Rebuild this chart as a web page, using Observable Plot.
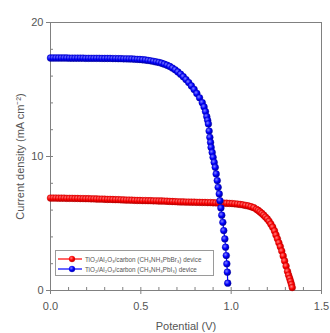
<!DOCTYPE html>
<html>
<head>
<meta charset="utf-8">
<script src="https://cdn.jsdelivr.net/npm/d3@7"></script>
<script src="https://cdn.jsdelivr.net/npm/@observablehq/plot@0.6"></script>
<style>
  body { margin: 0; background: #fff; }
  #wrap { position: relative; width: 330px; height: 333px; font-family: "Liberation Sans", Arial, sans-serif; }
  #legend { position: absolute; left: 55px; top: 250px; width: 159px; height: 26px; border: 1px solid #9a9a9a; background: #fff; box-sizing: border-box; }
  .row { position: absolute; left: 0; height: 10px; display: flex; align-items: center; font-size: 6.3px; color: #555; white-space: nowrap; }
  .row svg { margin-left: 2px; margin-right: 3px; }
</style>
</head>
<body>
<div id="wrap"></div>
<script>
// Red: TiO2/Al2O3/carbon (CH3NH3PbBr3) device
const redV = [0.000,0.015,0.030,0.045,0.060,0.075,0.090,0.105,0.120,0.135,0.150,0.165,0.180,0.195,0.210,0.225,0.240,0.255,0.270,0.285,0.300,0.315,0.330,0.345,0.360,0.375,0.390,0.405,0.420,0.435,0.450,0.465,0.480,0.495,0.510,0.525,0.540,0.555,0.570,0.585,0.600,0.615,0.630,0.645,0.660,0.675,0.690,0.705,0.720,0.735,0.750,0.765,0.780,0.795,0.810,0.825,0.840,0.855,0.870,0.885,0.900,0.915,0.930,0.945,0.960,0.975,0.990,1.005,1.020,1.035,1.050,1.065,1.080,1.095,1.110,1.125,1.140,1.150,1.160,1.170,1.180,1.190,1.200,1.210,1.220,1.230,1.240,1.248,1.256,1.264,1.272,1.280,1.288,1.296,1.304,1.312,1.318,1.324,1.329,1.334,1.338];
const redJ = [6.90,6.90,6.90,6.89,6.89,6.89,6.88,6.88,6.88,6.87,6.87,6.86,6.86,6.85,6.85,6.84,6.84,6.83,6.82,6.82,6.81,6.80,6.80,6.79,6.78,6.78,6.77,6.76,6.75,6.75,6.74,6.73,6.72,6.72,6.71,6.71,6.70,6.70,6.69,6.69,6.68,6.68,6.67,6.66,6.65,6.64,6.63,6.62,6.61,6.61,6.60,6.60,6.59,6.59,6.58,6.58,6.57,6.57,6.56,6.56,6.55,6.54,6.53,6.53,6.52,6.51,6.50,6.49,6.47,6.45,6.42,6.39,6.35,6.31,6.25,6.18,6.06,5.97,5.86,5.75,5.62,5.48,5.34,5.16,4.95,4.72,4.44,4.14,3.86,3.56,3.27,2.94,2.58,2.20,1.82,1.42,1.14,0.90,0.68,0.45,0.22];
// Blue: TiO2/Al2O3/carbon (CH3NH3PbI3) device
const blueV = [0.000,0.015,0.030,0.045,0.060,0.075,0.090,0.105,0.120,0.135,0.150,0.165,0.180,0.195,0.210,0.225,0.240,0.255,0.270,0.285,0.300,0.315,0.330,0.345,0.360,0.375,0.390,0.405,0.420,0.435,0.450,0.465,0.480,0.495,0.510,0.525,0.540,0.555,0.570,0.585,0.600,0.615,0.630,0.645,0.660,0.675,0.690,0.705,0.720,0.735,0.750,0.765,0.780,0.795,0.810,0.825,0.840,0.850,0.858,0.865,0.870,0.874,0.878,0.882,0.886,0.889,0.895,0.900,0.906,0.912,0.917,0.923,0.928,0.934,0.938,0.943,0.948,0.954,0.959,0.965,0.969,0.973,0.976,0.979,0.981];
const blueJ = [17.35,17.35,17.35,17.35,17.35,17.35,17.35,17.34,17.34,17.34,17.34,17.34,17.34,17.33,17.33,17.33,17.33,17.33,17.33,17.32,17.32,17.32,17.32,17.31,17.31,17.30,17.30,17.29,17.29,17.28,17.28,17.26,17.25,17.24,17.22,17.20,17.17,17.14,17.10,17.06,17.02,16.96,16.89,16.81,16.72,16.60,16.47,16.31,16.14,15.95,15.74,15.52,15.27,15.00,14.70,14.38,14.02,13.70,13.35,12.98,12.70,12.43,11.90,11.43,11.05,10.68,10.30,9.94,9.56,9.19,8.70,8.20,7.70,7.21,6.70,6.16,5.62,5.09,4.47,3.85,3.23,2.61,1.99,1.37,0.55];

const xMajor = [0, 0.5, 1.0, 1.5];
const xMinor = [0,0.1,0.2,0.3,0.4,0.5,0.6,0.7,0.8,0.9,1.0,1.1,1.2,1.3,1.4,1.5];
const yMajor = [0, 10, 20];
const yMinor = [0,2,4,6,8,10,12,14,16,18,20];

const seriesNames = ["TiO₂/Al₂O₃/carbon (CH₃NH₃PbBr₃) device", "TiO₂/Al₂O₃/carbon (CH₃NH₃PbI₃) device"];
const seriesColors = ["#ff0000", "#0000ff"];

const red = redV.map((v, i) => ({V: v, J: redJ[i]}));
const blue = blueV.map((v, i) => ({V: v, J: blueJ[i]}));

const axisColor = "#808080";
const chart = Plot.plot({
  width: 330, height: 333,
  marginLeft: 50, marginRight: 9, marginTop: 22, marginBottom: 43,
  style: {fontFamily: "'Liberation Sans', Arial, sans-serif", fontSize: "11px", color: "#555", background: "#fff"},
  x: {domain: [0, 1.5]},
  y: {domain: [0, 20]},
  marks: [
    Plot.frame({stroke: axisColor, strokeWidth: 1}),
    Plot.axisX({ticks: xMajor, tickFormat: d3.format(".1f"), tickSize: 4, tickPadding: 8, stroke: axisColor, label: "Potential (V)", labelAnchor: "center", labelOffset: 39, labelArrow: "none", fill: "#555"}),
    Plot.axisX({ticks: xMinor, tickSize: 3, dy: -3, tickFormat: () => "", stroke: axisColor, label: null}),
    Plot.axisY({ticks: yMajor, tickSize: 4, tickPadding: 3, stroke: axisColor, label: "Current density (mA cm⁻²)", labelAnchor: "center", labelOffset: 34, labelArrow: "none", fill: "#555"}),
    Plot.axisY({ticks: yMinor, tickSize: 3, dx: 3, tickFormat: () => "", stroke: axisColor, label: null}),
    Plot.line(red, {x: "V", y: "J", stroke: seriesColors[0], strokeWidth: 1.2}),
    Plot.line(blue, {x: "V", y: "J", stroke: seriesColors[1], strokeWidth: 1.2}),
    Plot.dot(red, {x: "V", y: "J", r: 3.4, fill: "url(#gRed)", stroke: "#c00000", strokeWidth: 0.4}),
    Plot.dot(blue, {x: "V", y: "J", r: 3.4, fill: "url(#gBlue)", stroke: "#0000a8", strokeWidth: 0.4})
  ]
});

// radial gradients for shaded dots
const svg = d3.select(chart);
const defs = svg.insert("defs", ":first-child");
function grad(id, light, mid, dark) {
  const g = defs.append("radialGradient").attr("id", id).attr("cx", "38%").attr("cy", "35%").attr("r", "65%");
  g.append("stop").attr("offset", "0%").attr("stop-color", light);
  g.append("stop").attr("offset", "55%").attr("stop-color", mid);
  g.append("stop").attr("offset", "100%").attr("stop-color", dark);
}
grad("gRed", "#ff8080", "#ff0000", "#b00000");
grad("gBlue", "#8080ff", "#0000ff", "#0000a0");

const wrap = document.getElementById("wrap");
wrap.appendChild(chart);

// legend
const legend = document.createElement("div");
legend.id = "legend";
seriesNames.forEach((name, i) => {
  const row = document.createElement("div");
  row.className = "row";
  row.style.top = (3 + i * 10) + "px";
  const c = seriesColors[i];
  const gid = i === 0 ? "gRed" : "gBlue";
  row.innerHTML = `<svg width="24" height="8"><line x1="0" y1="4" x2="24" y2="4" stroke="${c}" stroke-width="1.2"/><circle cx="14" cy="4" r="3" fill="url(#${gid})" stroke="${c}" stroke-width="0.3"/></svg><span>${name}</span>`;
  legend.appendChild(row);
});
wrap.appendChild(legend);
</script>
</body>
</html>
